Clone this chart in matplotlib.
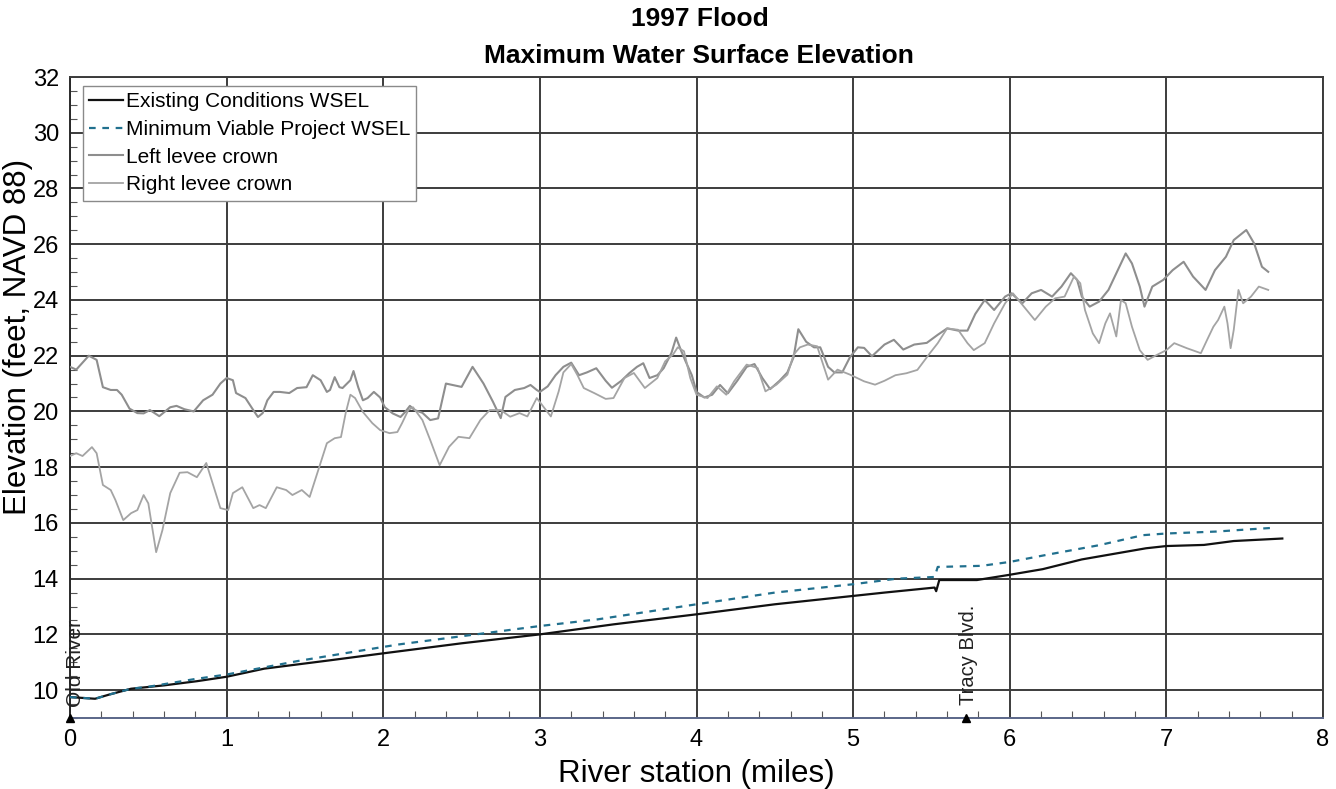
import matplotlib
matplotlib.use("Agg")
import matplotlib.pyplot as plt
from matplotlib.ticker import MultipleLocator

plt.rcParams['font.family'] = ['Liberation Sans', 'DejaVu Sans']

# River stations (miles) and elevations (feet, NAVD 88)
left_levee_x = [0.0, 0.04, 0.12, 0.17, 0.21, 0.26, 0.30, 0.33, 0.38, 0.43, 0.47, 0.51, 0.57,
                0.64, 0.68, 0.73, 0.79, 0.85, 0.91, 0.96, 1.0, 1.04, 1.06, 1.12, 1.17, 1.2,
                1.23, 1.26, 1.30, 1.34, 1.40, 1.45, 1.51, 1.55, 1.6, 1.64, 1.66, 1.69, 1.72,
                1.74, 1.79, 1.81, 1.84, 1.87, 1.9, 1.94, 1.98, 2.01, 2.06, 2.11, 2.14, 2.17,
                2.2, 2.25, 2.3, 2.35, 2.4, 2.5, 2.57, 2.64, 2.7, 2.75, 2.78, 2.84, 2.9, 2.94,
                2.98, 3.0, 3.05, 3.1, 3.15, 3.2, 3.25, 3.3, 3.36, 3.42, 3.46, 3.52, 3.57, 3.62,
                3.66, 3.7, 3.75, 3.79, 3.84, 3.87, 3.9, 3.93, 3.97, 4.0, 4.05, 4.1, 4.15, 4.2,
                4.26, 4.32, 4.37, 4.42, 4.47, 4.53, 4.58, 4.62, 4.65, 4.7, 4.75, 4.79, 4.84,
                4.88, 4.93, 4.98, 5.03, 5.07, 5.12, 5.2, 5.26, 5.32, 5.39, 5.47, 5.54, 5.6,
                5.67, 5.73, 5.78, 5.84, 5.9, 5.97, 6.01, 6.08, 6.14, 6.2, 6.27, 6.33, 6.39,
                6.43, 6.46, 6.51, 6.57, 6.63, 6.69, 6.74, 6.78, 6.83, 6.86, 6.91, 6.98, 7.04,
                7.11, 7.17, 7.25, 7.31, 7.38, 7.43, 7.51, 7.56, 7.61, 7.65]
left_levee_y = [21.6, 21.5, 22.0, 21.85, 20.87, 20.77, 20.77, 20.6, 20.1, 19.94, 19.93, 20.05,
                19.83, 20.15, 20.2, 20.08, 20.0, 20.4, 20.6, 21.0, 21.2, 21.12, 20.66, 20.48,
                20.05, 19.8, 19.94, 20.4, 20.7, 20.7, 20.66, 20.84, 20.87, 21.3, 21.12, 20.7,
                20.77, 21.23, 20.87, 20.84, 21.12, 21.45, 20.87, 20.4, 20.48, 20.7, 20.5,
                20.15, 19.93, 19.8, 19.98, 20.2, 20.05, 19.95, 19.69, 19.75, 21.0, 20.88, 21.6,
                21.0, 20.35, 19.76, 20.52, 20.77, 20.84, 20.95, 20.77, 20.7, 20.9, 21.3, 21.6,
                21.75, 21.3, 21.4, 21.55, 21.1, 20.85, 21.1, 21.37, 21.6, 21.73, 21.2, 21.3,
                21.55, 22.1, 22.65, 22.2, 21.8, 21.3, 20.7, 20.5, 20.6, 20.95, 20.65, 21.1,
                21.6, 21.7, 21.2, 20.8, 21.1, 21.4, 21.95, 22.95, 22.5, 22.3, 22.3, 21.6, 21.4,
                21.4, 21.95, 22.3, 22.28, 21.98, 22.4, 22.57, 22.22, 22.4, 22.46, 22.75, 22.98,
                22.9, 22.9, 23.5, 24.0, 23.64, 24.12, 24.24, 23.88, 24.24, 24.36, 24.12, 24.48,
                24.96, 24.72, 24.12, 23.76, 23.94, 24.36, 25.07, 25.67, 25.31, 24.48, 23.76,
                24.48, 24.72, 25.07, 25.37, 24.84, 24.36, 25.07, 25.55, 26.15, 26.51, 26.03,
                25.19, 25.01]

right_levee_x = [0.0, 0.04, 0.08, 0.14, 0.17, 0.21, 0.26, 0.29, 0.34, 0.39, 0.43, 0.47, 0.50,
                 0.55, 0.59, 0.64, 0.70, 0.75, 0.81, 0.87, 0.91, 0.96, 1.01, 1.04, 1.10, 1.17,
                 1.21, 1.25, 1.32, 1.38, 1.42, 1.48, 1.53, 1.60, 1.64, 1.69, 1.73, 1.76, 1.79,
                 1.82, 1.87, 1.93, 1.98, 2.04, 2.09, 2.12, 2.16, 2.19, 2.25, 2.3, 2.36, 2.42,
                 2.48, 2.55, 2.62, 2.68, 2.75, 2.81, 2.87, 2.92, 2.98, 3.07, 3.12, 3.15, 3.2,
                 3.24, 3.28, 3.35, 3.42, 3.47, 3.54, 3.6, 3.67, 3.75, 3.8, 3.85, 3.88, 3.92,
                 3.96, 4.0, 4.07, 4.13, 4.19, 4.24, 4.32, 4.39, 4.44, 4.51, 4.58, 4.62, 4.66,
                 4.71, 4.77, 4.84, 4.9, 4.98, 5.07, 5.14, 5.2, 5.27, 5.34, 5.41, 5.49, 5.54,
                 5.6, 5.67, 5.73, 5.77, 5.84, 5.9, 5.97, 6.02, 6.09, 6.16, 6.23, 6.29, 6.35,
                 6.41, 6.45, 6.48, 6.53, 6.57, 6.61, 6.64, 6.68, 6.71, 6.74, 6.78, 6.83, 6.88,
                 6.94, 7.0, 7.05, 7.13, 7.22, 7.26, 7.3, 7.33, 7.37, 7.39, 7.41, 7.43, 7.46,
                 7.49, 7.54, 7.59, 7.65]
right_levee_y = [18.4, 18.5, 18.4, 18.72, 18.5, 17.36, 17.18, 16.82, 16.1, 16.35, 16.46, 17.0,
                 16.7, 14.95, 15.74, 17.07, 17.8, 17.82, 17.64, 18.15, 17.43, 16.53, 16.46,
                 17.07, 17.28, 16.53, 16.64, 16.53, 17.28, 17.18, 17.0, 17.18, 16.93, 18.15,
                 18.86, 19.04, 19.08, 19.94, 20.6, 20.48, 19.98, 19.58, 19.33, 19.22, 19.26,
                 19.58, 20.05, 20.15, 19.69, 18.97, 18.07, 18.73, 19.09, 19.04, 19.69, 20.05,
                 20.05, 19.81, 19.94, 19.82, 20.48, 19.82, 20.72, 21.4, 21.7, 21.3, 20.84,
                 20.65, 20.45, 20.48, 21.2, 21.38, 20.84, 21.2, 21.8, 22.04, 22.3, 22.16,
                 21.2, 20.6, 20.48, 20.9, 20.6, 21.08, 21.68, 21.56, 20.72, 20.96, 21.32,
                 22.04, 22.3, 22.4, 22.34, 21.14, 21.5, 21.32, 21.08, 20.96, 21.1, 21.3,
                 21.37, 21.49, 22.09, 22.45, 22.98, 22.93, 22.45, 22.2, 22.45, 23.16, 23.88,
                 24.24, 23.76, 23.28, 23.76, 24.06, 24.12, 24.84, 24.6, 23.64, 22.8, 22.45,
                 23.16, 23.52, 22.69, 24.0, 23.88, 23.04, 22.2, 21.85, 22.03, 22.2, 22.45,
                 22.27, 22.09, 22.57, 23.04, 23.28, 23.76, 23.16, 22.27, 22.93, 24.36, 23.88,
                 24.12, 24.48, 24.36]

existing_x = [0.0, 0.16, 0.25, 0.39, 0.6, 0.81, 1.0, 1.24, 1.66, 2.0, 2.5, 3.0, 3.47, 4.0,
              4.5, 5.0, 5.2, 5.52, 5.53, 5.55, 5.79, 5.99, 6.21, 6.46, 6.87, 7.0, 7.24, 7.43,
              7.74]
existing_y = [9.75, 9.69, 9.84, 10.05, 10.17, 10.32, 10.48, 10.77, 11.07, 11.32, 11.68, 12.0,
              12.36, 12.72, 13.08, 13.38, 13.5, 13.68, 13.55, 13.95, 13.95, 14.13, 14.34,
              14.69, 15.09, 15.17, 15.21, 15.35, 15.44]

project_x = [0.0, 0.16, 0.25, 0.39, 0.5, 0.8, 1.0, 1.45, 2.0, 2.1, 3.0, 3.37, 4.0, 4.5, 5.0,
             5.28, 5.52, 5.54, 5.82, 6.0, 6.25, 6.57, 6.85, 7.0, 7.32, 7.53, 7.7]
project_y = [9.75, 9.69, 9.84, 10.05, 10.12, 10.4, 10.56, 11.04, 11.55, 11.64, 12.3, 12.54,
             13.08, 13.5, 13.8, 14.0, 14.06, 14.42, 14.46, 14.6, 14.87, 15.2, 15.56, 15.62,
             15.69, 15.77, 15.83]

landmark_names = ["Old River", "Tracy Blvd."]
landmark_x = [0.0, 5.72]

fig = plt.figure(figsize=(13.36, 7.89), dpi=100)
ax = fig.add_axes([0.0524, 0.090, 0.9379, 0.8124])

ax.plot(existing_x, existing_y, color='#111111', lw=1.6, label='Existing Conditions WSEL', zorder=4)
ax.plot(project_x, project_y, color='#21708e', lw=1.6, dashes=(3, 3),
        label='Minimum Viable Project WSEL', zorder=5)
ax.plot(left_levee_x, left_levee_y, color='#8e8e8e', lw=1.5, label='Left levee crown', zorder=3)
ax.plot(right_levee_x, right_levee_y, color='#a4a4a4', lw=1.3, label='Right levee crown', zorder=3)

# Landmark markers along the bottom of the plot
ax.plot(landmark_x, [9.0] * len(landmark_x), linestyle='none', marker='^', color='black',
        markersize=6, clip_on=False, zorder=6)
ax.text(landmark_x[0] + 0.035, 9.4, landmark_names[0], rotation=90, ha='center', va='bottom',
        fontsize=15, color='#222222')
ax.text(landmark_x[1] + 0.015, 9.45, landmark_names[1], rotation=90, ha='center', va='bottom',
        fontsize=14.5, color='#222222')

ax.set_xlim(0, 8)
ax.set_ylim(9, 32)
ax.xaxis.set_major_locator(MultipleLocator(1))
ax.xaxis.set_minor_locator(MultipleLocator(0.2))
ax.yaxis.set_major_locator(MultipleLocator(2))
ax.yaxis.set_minor_locator(MultipleLocator(0.5))
ax.tick_params(which='major', direction='in', length=0, labelsize=17, pad=8)
ax.tick_params(which='minor', direction='in', length=5, width=0.8, colors='#555555')
ax.tick_params(axis='y', which='minor', left=True, right=False)
ax.tick_params(axis='x', which='minor', bottom=True, top=False)

ax.grid(True, which='major', color='#3c3c3c', lw=1.4)
ax.set_axisbelow(True)
for side in ['top', 'right']:
    ax.spines[side].set_color('#3c3c3c')
    ax.spines[side].set_linewidth(1.4)
ax.spines['left'].set_color('#2a2a2a')
ax.spines['left'].set_linewidth(1.4)
ax.spines['bottom'].set_color('#5a6688')
ax.spines['bottom'].set_linewidth(1.4)

ax.set_xlabel('River station (miles)', fontsize=22.5)
ax.xaxis.label.set_va('center')
ax.xaxis.set_label_coords(0.5, -0.088)
ax.set_ylabel('Elevation (feet, NAVD 88)', fontsize=22.5)
ax.yaxis.label.set_rotation_mode('default')
ax.yaxis.label.set_va('center')
ax.yaxis.label.set_ha('center')
ax.yaxis.set_label_coords(-0.0415, 0.594)

fig.text(0.5235, 1 - 19 / 789, '1997 Flood', ha='center', va='center', fontsize=19,
         fontweight='bold')
fig.text(0.5235, 1 - 56 / 789, 'Maximum Water Surface Elevation', ha='center', va='center',
         fontsize=19, fontweight='bold')

leg = ax.legend(loc='upper left', bbox_to_anchor=(0.0104, 0.986), borderaxespad=0,
                fontsize=15, frameon=True, fancybox=False, framealpha=1,
                edgecolor='#8a8a8a', handlelength=1.6, handletextpad=0.15,
                labelspacing=0.42, borderpad=0.3)
leg.get_frame().set_linewidth(1.0)

fig.savefig('out.png', dpi=100)
